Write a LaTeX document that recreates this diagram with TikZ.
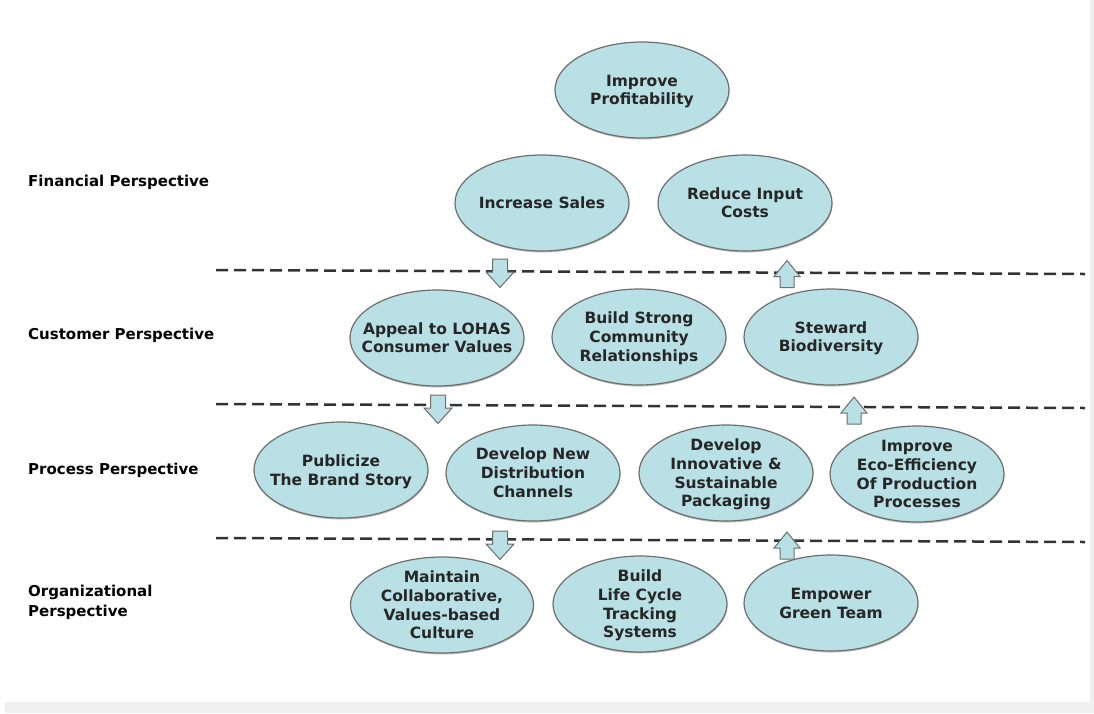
\documentclass[tikz,border=0pt]{standalone}
\usepackage{fontspec}
\setmainfont{DejaVu Sans}
\usetikzlibrary{shadows,shapes.geometric}
\definecolor{ellfill}{HTML}{B9E0E4}
\definecolor{elldraw}{HTML}{6E6E6E}
\definecolor{txt}{HTML}{262626}
\definecolor{dashc}{HTML}{333333}
\definecolor{bandc}{HTML}{F0F0F0}
\newcommand{\etxt}[1]{\raisebox{-5.5pt}[0pt][0pt]{\makebox[0pt]{\begin{tabular}{@{}c@{}}#1\end{tabular}}}}
\tikzset{
  ell/.style={ellipse, draw=elldraw, line width=1.2pt, fill=ellfill,
    minimum width=174pt, minimum height=96pt, inner sep=0pt,
    text=txt, font=\bfseries\fontsize{15.5}{18.7}\selectfont,
    drop shadow={shadow xshift=0.5pt, shadow yshift=-1.5pt, fill=black, opacity=0.25}},
  lbl/.style={anchor=west, align=left, inner sep=0pt, text=black,
    font=\bfseries\fontsize{15}{20}\selectfont},
  sep/.style={draw=dashc, line width=2.5pt, dash pattern=on 12pt off 6pt},
  arrbox/.style={fill=ellfill, draw=elldraw, line width=1pt, line join=miter},
  pics/downarr/.style={code={\draw[arrbox] (-7.5,-13) -- (7.5,-13) -- (7.5,0) -- (14,0) -- (0,15.5) -- (-14,0) -- (-7.5,0) -- cycle;}},
  pics/uparr/.style={code={\draw[arrbox] (-7,11) -- (7,11) -- (7,0) -- (13,0) -- (0,-16) -- (-13,0) -- (-7,0) -- cycle;}},
}
\begin{document}
\begin{tikzpicture}[x=1pt,y=-1pt]
\useasboundingbox (0,0) rectangle (1094,713);
\fill[white] (0,0) rectangle (1094,713);
\fill[bandc] (5,702) rectangle (1094,713);
\fill[bandc] (1090,0) rectangle (1094,713);

% perspective labels
\node[lbl] (lfin) at (28,182) {Financial Perspective};
\node[lbl] (lcus) at (28,335) {Customer Perspective};
\node[lbl] (lpro) at (28,470) {Process Perspective};
\node[lbl] (lorg) at (28,602) {Organizational\\Perspective};

% separators
\coordinate (s1a) at (216,270); \coordinate (s1b) at (1085,274);
\coordinate (s2a) at (216,404); \coordinate (s2b) at (1085,408);
\coordinate (s3a) at (216,538); \coordinate (s3b) at (1085,542);
\draw[sep] (s1a) -- (s1b);
\draw[sep] (s2a) -- (s2b);
\draw[sep] (s3a) -- (s3b);

% financial
\node[ell] (prof) at (642,90) {\etxt{Improve\\Profitability}};
\node[ell] (sales) at (542,203) {\etxt{Increase Sales}};
\node[ell] (costs) at (745,203) {\etxt{Reduce Input\\Costs}};

% customer
\node[ell] (lohas) at (437,338) {\etxt{Appeal to LOHAS\\Consumer Values}};
\node[ell] (comm) at (639,337) {\etxt{Build Strong\\Community\\Relationships}};
\node[ell] (bio) at (831,337) {\etxt{Steward\\Biodiversity}};

% process
\node[ell] (brand) at (341,470) {\etxt{Publicize\\The Brand Story}};
\node[ell] (dist) at (533,473) {\etxt{Develop New\\Distribution\\Channels}};
\node[ell] (pack) at (726,473) {\etxt{Develop\\Innovative \&\\Sustainable\\Packaging}};
\node[ell] (eco) at (917,474) {\etxt{Improve\\Eco-Efficiency\\Of Production\\Processes}};

% organizational
\node[ell, minimum width=183pt] (cult) at (442,605) {\etxt{Maintain\\Collaborative,\\Values-based\\Culture}};
\node[ell] (track) at (640,604) {\etxt{Build\\Life Cycle\\Tracking\\Systems}};
\node[ell] (green) at (831,603) {\etxt{Empower\\Green Team}};

% arrows between perspectives
\pic at (500,272) {downarr};
\pic at (787,276.5) {uparr};
\pic at (438,408) {downarr};
\pic at (854,413) {uparr};
\pic at (500,544) {downarr};
\pic at (787,548) {uparr};
\end{tikzpicture}
\end{document}
